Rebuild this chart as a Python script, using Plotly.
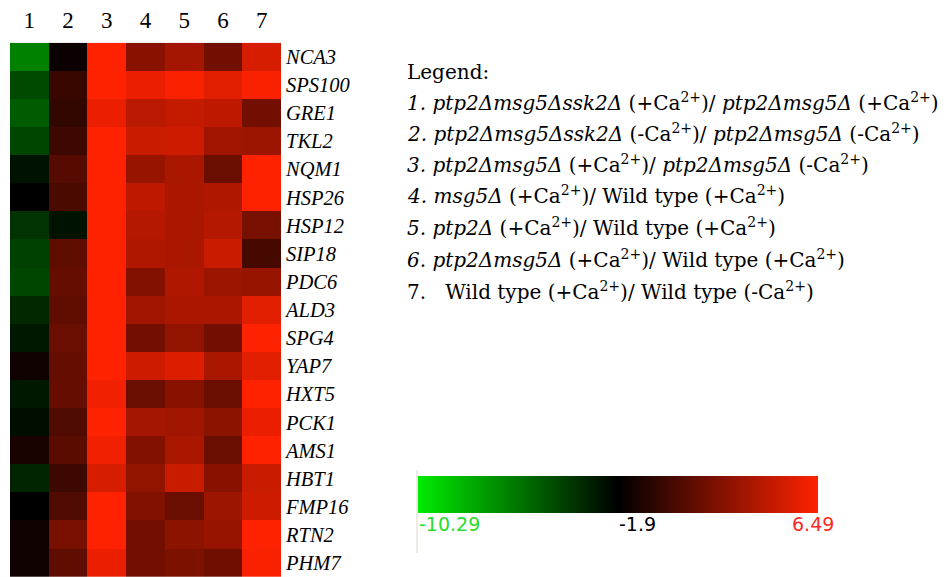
import plotly.graph_objects as go

W, H = 948, 577

columns = ["1", "2", "3", "4", "5", "6", "7"]
genes = ["NCA3", "SPS100", "GRE1", "TKL2", "NQM1", "HSP26", "HSP12", "SIP18",
         "PDC6", "ALD3", "SPG4", "YAP7", "HXT5", "PCK1", "AMS1", "HBT1",
         "FMP16", "RTN2", "PHM7"]

z_NCA3 = [-6.51, -1.57, 6.49, 2.54, 3.53, 1.88, 5.17]
z_SPS100 = [-4.53, -0.09, 6.49, 5.83, 6.33, 5.50, 6.33]
z_GRE1 = [-5.19, -0.25, 5.83, 4.19, 4.52, 4.35, 1.88]
z_TKL2 = [-4.37, 0.07, 6.49, 4.68, 4.85, 3.36, 3.20]
z_NQM1 = [-2.56, 0.90, 6.49, 3.04, 3.69, 1.55, 6.49]
z_HSP26 = [-1.90, 0.57, 6.49, 4.35, 3.69, 3.86, 6.49]
z_HSP12 = [-3.71, -2.56, 6.49, 4.02, 3.69, 4.02, 2.05]
z_SIP18 = [-4.20, 1.23, 6.49, 3.86, 3.69, 4.68, 0.40]
z_PDC6 = [-4.37, 1.39, 6.49, 2.38, 3.86, 3.20, 3.04]
z_ALD3 = [-3.38, 1.23, 6.49, 3.36, 3.69, 3.69, 5.50]
z_SPG4 = [-2.72, 1.55, 6.49, 1.88, 2.87, 1.88, 6.49]
z_YAP7 = [-1.41, 1.39, 6.49, 4.85, 5.34, 3.69, 5.50]
z_HXT5 = [-2.72, 1.39, 6.00, 1.55, 2.54, 1.55, 6.49]
z_PCK1 = [-2.39, 0.73, 6.49, 3.53, 3.36, 2.71, 5.83]
z_AMS1 = [-1.08, 1.06, 6.00, 2.38, 3.69, 1.55, 6.49]
z_HBT1 = [-3.22, 0.07, 5.17, 2.87, 4.68, 2.54, 4.68]
z_FMP16 = [-1.90, 0.73, 6.49, 2.38, 1.55, 3.20, 4.85]
z_RTN2 = [-1.41, 2.05, 6.49, 1.88, 2.71, 3.04, 6.49]
z_PHM7 = [-1.41, 1.23, 5.83, 1.88, 2.21, 1.72, 6.33]

z = [z_NCA3, z_SPS100, z_GRE1, z_TKL2, z_NQM1, z_HSP26, z_HSP12, z_SIP18,
     z_PDC6, z_ALD3, z_SPG4, z_YAP7, z_HXT5, z_PCK1, z_AMS1, z_HBT1,
     z_FMP16, z_RTN2, z_PHM7]

zmin, zmid, zmax = -10.29, -1.9, 6.49
scale_labels = ["-10.29", "-1.9", "6.49"]

legend_lines = [
    "Legend:",
    "<i>1. ptp2Δmsg5Δssk2Δ</i> (+Ca<sup>2+</sup>)/ <i>ptp2Δmsg5Δ</i> (+Ca<sup>2+</sup>)",
    "<i>2. ptp2Δmsg5Δssk2Δ</i> (-Ca<sup>2+</sup>)/ <i>ptp2Δmsg5Δ</i> (-Ca<sup>2+</sup>)",
    "<i>3. ptp2Δmsg5Δ</i> (+Ca<sup>2+</sup>)/ <i>ptp2Δmsg5Δ</i> (-Ca<sup>2+</sup>)",
    "<i>4. msg5Δ</i> (+Ca<sup>2+</sup>)/ Wild type (+Ca<sup>2+</sup>)",
    "<i>5. ptp2Δ</i> (+Ca<sup>2+</sup>)/ Wild type (+Ca<sup>2+</sup>)",
    "<i>6. ptp2Δmsg5Δ</i> (+Ca<sup>2+</sup>)/ Wild type (+Ca<sup>2+</sup>)",
    "7.   Wild type (+Ca<sup>2+</sup>)/ Wild type (-Ca<sup>2+</sup>)",
]

GREEN = "rgb(0,235,0)"
RED = "rgb(255,34,0)"

fig = go.Figure()
fig.add_trace(go.Heatmap(
    z=z, x=columns, y=genes, zmin=zmin, zmax=zmax,
    colorscale=[[0, GREEN], [0.5, "black"], [1, RED]],
    xgap=0, ygap=0,
    colorbar=dict(
        orientation="h", xanchor="left", x=418 / W, yanchor="top", y=1 - 476 / H,
        lenmode="pixels", len=400, thicknessmode="pixels", thickness=37,
        xpad=0, ypad=0, outlinewidth=0, showticklabels=False, ticks="",
    ),
))

serif = "Liberation Serif"
fig.update_layout(
    width=W, height=H, margin=dict(l=0, r=0, t=0, b=0),
    paper_bgcolor="white", plot_bgcolor="white",
    xaxis=dict(domain=[10 / W, 281 / W], side="top", showgrid=False, zeroline=False,
               ticks="", ticklabelstandoff=9,
               tickfont=dict(family=serif, size=23, color="black")),
    yaxis=dict(domain=[0, 1 - 42.7 / H], side="right", autorange="reversed",
               showgrid=False, zeroline=False, ticks="", ticklabelstandoff=4,
               tickfont=dict(family=serif, size=20.5, color="black", style="italic")),
)

ys = [72, 102, 133, 164, 195, 227, 259, 291]
for txt, yy in zip(legend_lines, ys):
    fig.add_annotation(x=405 / W, y=1 - yy / H, xref="paper", yref="paper",
                       xanchor="left", yanchor="middle", showarrow=False,
                       text=txt, font=dict(family="DejaVu Serif", size=20, color="black"))

label_colors = ["rgb(40,220,40)", "black", "rgb(255,40,30)"]
label_x = [417 / W, 617 / W, 836 / W]
label_anchor = ["left", "left", "right"]
for t, c, xx, a in zip(scale_labels, label_colors, label_x, label_anchor):
    fig.add_annotation(x=xx, y=1 - 524 / H, xref="paper", yref="paper",
                       xanchor=a, yanchor="middle", showarrow=False, text=t,
                       font=dict(family="DejaVu Sans", size=19, color=c))

fig.add_shape(type="line", xref="paper", yref="paper",
              x0=417 / W, x1=417 / W, y0=1 - 470 / H, y1=1 - 553 / H,
              line=dict(color="rgb(220,215,205)", width=1))

fig.write_html("out.html")
